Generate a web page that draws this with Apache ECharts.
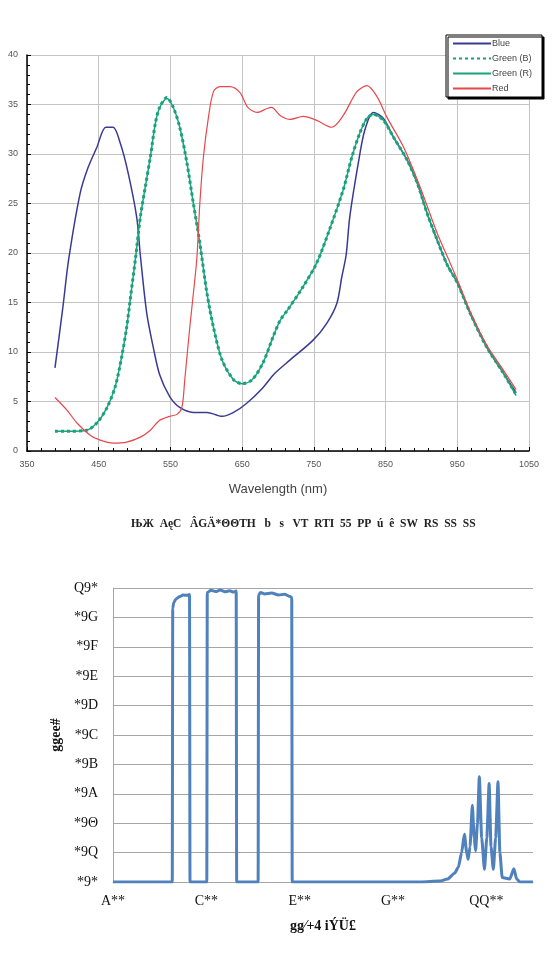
<!DOCTYPE html>
<html>
<head>
<meta charset="utf-8">
<script src="https://cdn.jsdelivr.net/npm/echarts@6/dist/echarts.min.js"></script>
<style>
  html, body { margin: 0; padding: 0; background: #fff; }
  #chart { width: 552px; height: 953px; }
</style>
</head>
<body>
<div id="chart"></div>
<script>
// top chart: spectral response, wavelength (nm) vs value
var blueWl = [389, 400, 408, 424, 435, 447, 460, 470, 480, 491, 503, 508, 517, 526, 535, 549, 563, 582, 601, 622, 638, 656, 679, 695, 717, 749, 768, 782, 789, 795, 800, 812, 821, 833, 847, 861, 880, 894, 908, 922, 936, 950, 968, 991, 1014, 1032]
var blueVal = [8.4, 14.5, 19.3, 26, 28.6, 30.6, 32.7, 32.7, 31.1, 28.1, 23.6, 19.8, 13.9, 10.5, 7.7, 5.5, 4.4, 3.9, 3.9, 3.5, 3.9, 4.8, 6.4, 7.8, 9.2, 11.2, 12.9, 14.9, 17.6, 19.8, 23.6, 29.1, 32.4, 34.2, 33.6, 31.7, 29.4, 27.1, 24, 21.3, 18.8, 17, 13.9, 10.5, 7.9, 5.9]

var greenBWl = [389, 410, 433, 447, 461, 473, 482, 489, 495, 501, 508, 515, 522, 529, 535, 545, 554, 563, 573, 582, 591, 601, 610, 622, 638, 650, 664, 679, 693, 703, 713, 735, 754, 773, 791, 803, 814, 824, 833, 847, 861, 880, 894, 908, 922, 936, 950, 968, 991, 1014, 1032]
var greenBVal = [2.0, 2.0, 2.1, 2.8, 4.3, 6.5, 9.5, 12.5, 15.9, 19.3, 23.6, 26.7, 29.7, 33.1, 34.7, 35.7, 34.7, 32.7, 29.1, 25, 21, 15.9, 12.5, 9.2, 7.2, 6.8, 7.2, 8.9, 11.5, 13.2, 14.2, 16.6, 19, 22.6, 26.4, 29.7, 32.1, 33.6, 34.0, 33.4, 31.7, 29.4, 27.1, 24, 21.3, 18.8, 17, 13.9, 10.5, 7.9, 5.7]

var greenRWl = [389, 410, 433, 447, 461, 473, 482, 489, 495, 501, 508, 515, 522, 529, 535, 545, 554, 563, 573, 582, 591, 601, 610, 622, 638, 650, 664, 679, 693, 703, 713, 735, 754, 773, 791, 803, 814, 824, 833, 847, 861, 880, 894, 908, 922, 936, 950, 968, 991, 1014, 1032]
var greenRVal = [2.0, 2.0, 2.1, 2.8, 4.3, 6.5, 9.5, 12.5, 15.9, 19.3, 23.6, 26.7, 29.7, 33.1, 34.7, 35.6, 34.7, 32.7, 29.1, 25, 21, 15.9, 12.5, 9.2, 7.2, 6.8, 7.2, 8.9, 11.5, 13.2, 14.2, 16.6, 19, 22.6, 26.4, 29.7, 32.1, 33.6, 34.0, 33.4, 31.7, 29.4, 27.1, 24, 21.3, 18.8, 17, 13.9, 10.5, 7.9, 5.6]

var redWl = [389, 406, 420, 438, 452, 470, 489, 508, 522, 535, 549, 559, 566, 570, 577, 584, 587, 591, 596, 603, 610, 619, 633, 647, 658, 671, 685, 691, 703, 717, 735, 754, 775, 791, 810, 824, 838, 852, 875, 898, 922, 940, 950, 968, 991, 1014, 1032]
var redVal = [5.4, 4.1, 2.8, 1.6, 1.1, 0.8, 0.9, 1.4, 2.1, 3.1, 3.5, 3.7, 4.4, 7.2, 12.5, 17.3, 19.6, 25, 29.7, 33.7, 36.3, 36.8, 36.8, 36.2, 34.7, 34.2, 34.6, 34.7, 33.9, 33.5, 33.8, 33.4, 32.7, 33.9, 36.3, 36.9, 35.8, 33.7, 30.7, 26.7, 22, 19, 17.3, 14.1, 10.7, 8.2, 6.2]

// bottom chart: transmission curve
var specWl = [300, 427, 428, 430, 435, 442, 450, 458, 464, 465, 501, 502, 510, 520, 530, 540, 550, 558, 564, 565, 611, 612, 616, 625, 640, 655, 668, 678, 683, 684, 960, 1000, 1017, 1032, 1040, 1047, 1053, 1058, 1061, 1065, 1070, 1074, 1077, 1081, 1085, 1090, 1096, 1101, 1106, 1110, 1115, 1120, 1125, 1129, 1134, 1150, 1159, 1165, 1172, 1200]
var specVal = [0, 0, 0.93, 0.95, 0.963, 0.97, 0.976, 0.975, 0.978, 0, 0, 0.985, 0.992, 0.988, 0.993, 0.987, 0.991, 0.986, 0.99, 0, 0, 0.975, 0.985, 0.98, 0.983, 0.976, 0.979, 0.972, 0.968, 0, 0, 0.003, 0.01, 0.03, 0.05, 0.1, 0.162, 0.1, 0.077, 0.12, 0.261, 0.15, 0.106, 0.2, 0.358, 0.15, 0.043, 0.15, 0.335, 0.12, 0.043, 0.15, 0.341, 0.1, 0.015, 0.01, 0.045, 0.01, 0, 0]

// garbled glyphs used by the bottom chart's font, one per digit
var digitGlyphs = { '0': '*', '1': 'Q', '2': 'Θ', '3': 'A', '4': 'B', '5': 'C', '6': 'D', '7': 'E', '8': 'F', '9': 'G', '.': '9' }
var bottomXName = 'gg⁄+4 iÝÜ£'
var bottomYName = 'ggee#'
var captionText = 'ЊЖ  AęC   ÂGÄ*ΘΘTH   b   s   VT  RTI  55  PP  ú  ê  SW  RS  SS  SS'

function pairs(xs, ys) {
  return xs.map(function (x, i) { return [x, ys[i]] })
}
function glyphs(str) {
  return str.split('').map(function (c) { return digitGlyphs[c] || c }).join('')
}

var chart = echarts.init(document.getElementById('chart'))
var topFont = "'Liberation Sans Narrow', 'Liberation Sans', sans-serif"
var serif = "'Liberation Serif', 'DejaVu Serif', serif"

var option = {
  backgroundColor: '#fff',
  animation: false,
  title: {
    text: captionText,
    left: 126,
    top: 513,
    textStyle: { fontFamily: serif, fontSize: 11.5, fontWeight: 'bold', color: '#222' }
  },
  legend: {
    orient: 'vertical',
    left: 446,
    top: 35,
    padding: [4, 10, 4, 6],
    itemGap: 6,
    itemWidth: 38,
    itemHeight: 10,
    backgroundColor: '#fff',
    borderColor: '#000',
    borderWidth: 1,
    shadowColor: '#000',
    shadowOffsetX: 2,
    shadowOffsetY: 2,
    shadowBlur: 0,
    itemStyle: { opacity: 0 },
    textStyle: { fontFamily: topFont, fontSize: 9, color: '#444', padding: [0, 0, 0, -4] },
    data: ['Blue', 'Green (B)', 'Green (R)', 'Red']
  },
  grid: [
    { left: 27, right: 23, top: 55, bottom: 502 },
    { left: 113, right: 19, top: 588, bottom: 71 }
  ],
  xAxis: [
    {
      gridIndex: 0,
      type: 'value',
      min: 350,
      max: 1050,
      interval: 100,
      name: 'Wavelength (nm)',
      nameLocation: 'middle',
      nameGap: 32,
      nameTextStyle: { fontFamily: topFont, fontSize: 13, color: '#444' },
      axisLine: { lineStyle: { color: '#000', width: 1.5 } },
      axisTick: { inside: true, length: 4, lineStyle: { color: '#000' } },
      minorTick: { show: true, splitNumber: 5, length: 3, lineStyle: { color: '#000' } },
      axisLabel: {
        fontFamily: topFont, fontSize: 9, color: '#555', margin: 9,
        formatter: function (v) { return String(v) }
      },
      splitLine: { show: true, lineStyle: { color: '#c4c4c4', width: 1 } }
    },
    {
      gridIndex: 1,
      type: 'value',
      min: 300,
      max: 1200,
      interval: 200,
      name: bottomXName,
      nameLocation: 'middle',
      nameGap: 37,
      nameTextStyle: { fontFamily: serif, fontSize: 14, fontWeight: 'bold', color: '#111' },
      axisLine: { lineStyle: { color: '#a6a6a6', width: 1 } },
      axisTick: { show: false },
      axisLabel: {
        fontFamily: serif, fontSize: 14, color: '#111', margin: 12, showMaxLabel: false,
        formatter: function (v) { return glyphs(String(v)) }
      },
      splitLine: { show: false }
    }
  ],
  yAxis: [
    {
      gridIndex: 0,
      type: 'value',
      min: 0,
      max: 40,
      interval: 5,
      axisLine: { show: true, lineStyle: { color: '#000', width: 1.5 } },
      axisTick: { show: true, inside: true, length: 4, lineStyle: { color: '#000' } },
      minorTick: { show: true, splitNumber: 5, length: 3, lineStyle: { color: '#000' } },
      axisLabel: { fontFamily: topFont, fontSize: 9, color: '#555', margin: 9 },
      splitLine: { show: true, lineStyle: { color: '#c4c4c4', width: 1 } }
    },
    {
      gridIndex: 1,
      type: 'value',
      min: 0,
      max: 1,
      interval: 0.1,
      name: bottomYName,
      nameLocation: 'middle',
      nameRotate: 90,
      nameGap: 42,
      nameTextStyle: { fontFamily: serif, fontSize: 14, fontWeight: 'bold', color: '#111' },
      axisLine: { show: true, lineStyle: { color: '#a6a6a6', width: 1 } },
      axisTick: { show: false },
      axisLabel: {
        fontFamily: serif, fontSize: 14, color: '#111', margin: 15,
        formatter: function (v) { return glyphs(v.toFixed(1)) }
      },
      splitLine: { show: true, lineStyle: { color: '#a6a6a6', width: 1 } }
    }
  ],
  series: [
    {
      name: 'Blue',
      type: 'line',
      xAxisIndex: 0,
      yAxisIndex: 0,
      symbol: 'none',
      smooth: 0.3,
      lineStyle: { color: '#3a3a95', width: 1.5 },
      itemStyle: { color: '#3a3a95' },
      data: pairs(blueWl, blueVal)
    },
    {
      name: 'Green (B)',
      type: 'line',
      xAxisIndex: 0,
      yAxisIndex: 0,
      symbol: 'none',
      smooth: 0.3,
      lineStyle: { color: '#16a078', width: 3, type: [3, 3] },
      itemStyle: { color: '#16a078' },
      data: pairs(greenBWl, greenBVal)
    },
    {
      name: 'Green (R)',
      type: 'line',
      xAxisIndex: 0,
      yAxisIndex: 0,
      symbol: 'none',
      smooth: 0.3,
      lineStyle: { color: '#1aa37c', width: 1.5 },
      itemStyle: { color: '#1aa37c' },
      data: pairs(greenRWl, greenRVal)
    },
    {
      name: 'Red',
      type: 'line',
      xAxisIndex: 0,
      yAxisIndex: 0,
      symbol: 'none',
      smooth: 0.3,
      lineStyle: { color: '#e8474b', width: 1.2 },
      itemStyle: { color: '#e8474b' },
      data: pairs(redWl, redVal)
    },
    {
      name: 'spectrum',
      type: 'line',
      xAxisIndex: 1,
      yAxisIndex: 1,
      symbol: 'none',
      smooth: 0.2,
      smoothMonotone: 'x',
      lineStyle: { color: '#4f81bd', width: 3 },
      data: pairs(specWl, specVal)
    }
  ]
}

option && chart.setOption(option)
</script>
</body>
</html>
